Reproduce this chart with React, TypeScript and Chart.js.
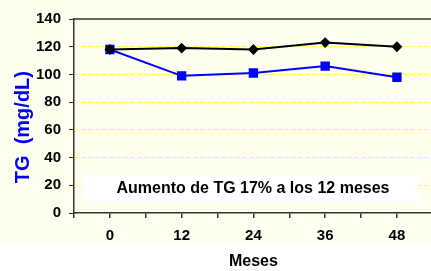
import React, { useEffect, useRef } from "react";
import { Chart, registerables } from "chart.js";

Chart.register(...registerables);

const months = [0, 12, 24, 36, 48];
const seriesBlack = [118, 119, 118, 123, 120];
const seriesBlue = [118, 99, 101, 106, 98];
const yTicks = [0, 20, 40, 60, 80, 100, 120, 140];
const yTitle = "TG  (mg/dL)";
const xTitle = "Meses";
const noteText = "Aumento de TG 17% a los 12 meses";

const FONT = "Arial, 'Liberation Sans', sans-serif";
const CREAM = "#FFFFF0";

const bgPlugin = {
  id: "bg",
  beforeDraw(chart: any) {
    const { ctx, width, height } = chart;
    ctx.save();
    ctx.fillStyle = "#FFFFFF";
    ctx.fillRect(0, 0, width, height);
    ctx.fillStyle = CREAM;
    ctx.fillRect(0, 0, width, 243);
    ctx.restore();
  },
  beforeDatasetsDraw(chart: any) {
    const { ctx, chartArea } = chart;
    ctx.save();
    ctx.strokeStyle = "#333333";
    ctx.lineWidth = 1.5;
    ctx.beginPath();
    ctx.moveTo(chartArea.left, chartArea.top);
    ctx.lineTo(chartArea.right, chartArea.top);
    ctx.stroke();
    const bx = chartArea.left + 9;
    const bw = chartArea.right - 14 - bx;
    const by = chartArea.bottom - 39;
    ctx.fillStyle = "#FFFFFF";
    ctx.fillRect(bx, by, bw, 28);
    ctx.fillStyle = "#000000";
    ctx.font = `bold 16px ${FONT}`;
    ctx.textAlign = "center";
    ctx.textBaseline = "middle";
    ctx.fillText(noteText, 253, by + 15);
    ctx.restore();
  },
};

export default function App() {
  const ref = useRef<HTMLCanvasElement | null>(null);
  useEffect(() => {
    if (!ref.current) return;
    const chart = new Chart(ref.current, {
      type: "line",
      data: {
        datasets: [
          {
            label: "A",
            data: months.map((m, i) => ({ x: m, y: seriesBlack[i] })),
            borderColor: "#000000",
            backgroundColor: "#000000",
            borderWidth: 2,
            pointStyle: "rectRot",
            pointRadius: 4,
          },
          {
            label: "B",
            data: months.map((m, i) => ({ x: m, y: seriesBlue[i] })),
            borderColor: "#0000FF",
            backgroundColor: "#0000FF",
            borderWidth: 2,
            pointStyle: "rect",
            pointRadius: 5.2,
          },
        ],
      },
      options: {
        animation: false,
        responsive: false,
        maintainAspectRatio: false,
        devicePixelRatio: 1,
        layout: { padding: { top: 19, right: 1, left: 0, bottom: 0 } },
        plugins: { legend: { display: false }, tooltip: { enabled: false } },
        scales: {
          x: {
            type: "linear",
            min: -6,
            max: 54,
            afterBuildTicks: (s: any) => {
              const t = [];
              for (let v = -6; v <= 54; v += 6) t.push({ value: v });
              s.ticks = t;
            },
            afterFit: (s: any) => {
              s.height = 58;
              s.paddingRight = 0;
              s.paddingLeft = 0;
            },
            grid: {
              drawOnChartArea: false,
              drawTicks: true,
              tickLength: 5,
              tickColor: "#333333",
              lineWidth: 1.5,
            },
            border: { color: "#333333", width: 1.5 },
            ticks: {
              autoSkip: false,
              maxRotation: 0,
              padding: 9,
              color: "#000000",
              font: { family: FONT, size: 15, weight: "bold" },
              callback: (v: any) => (months.includes(v) ? String(v) : ""),
            },
            title: {
              display: true,
              text: xTitle,
              color: "#000000",
              font: { family: FONT, size: 16, weight: "bold" },
              padding: { top: 0, bottom: 0 },
            },
          },
          y: {
            min: 0,
            max: 140,
            afterBuildTicks: (s: any) => {
              s.ticks = yTicks.map((v) => ({ value: v }));
            },
            afterFit: (s: any) => {
              s.width = 74;
            },
            grid: {
              color: (c: any) =>
                c.tick && (c.tick.value === 0 || c.tick.value === 140)
                  ? "rgba(0,0,0,0)"
                  : "#FFFF22",
              lineWidth: 1,
              drawTicks: true,
              tickLength: 5,
              tickColor: "#333333",
              tickBorderDash: [],
            },
            border: { color: "#333333", width: 1.5, dash: [4, 3] },
            ticks: {
              padding: 8,
              color: "#000000",
              font: { family: FONT, size: 15, weight: "bold" },
            },
            title: {
              display: true,
              text: yTitle + "    ",
              color: "#0000FF",
              font: { family: FONT, size: 20, weight: "bold" },
              padding: { top: 11, bottom: 0 },
            },
          },
        },
      },
      plugins: [bgPlugin],
    } as any);
    return () => chart.destroy();
  }, []);
  return (
    <div
      style={{
        position: "fixed",
        left: 0,
        top: 0,
        width: 431,
        height: 271,
        overflow: "hidden",
        background: "#FFFFFF",
      }}
    >
      <canvas
        ref={ref}
        width={440}
        height={271}
        style={{ position: "absolute", left: 0, top: 0, width: 440, height: 271 }}
      />
    </div>
  );
}
